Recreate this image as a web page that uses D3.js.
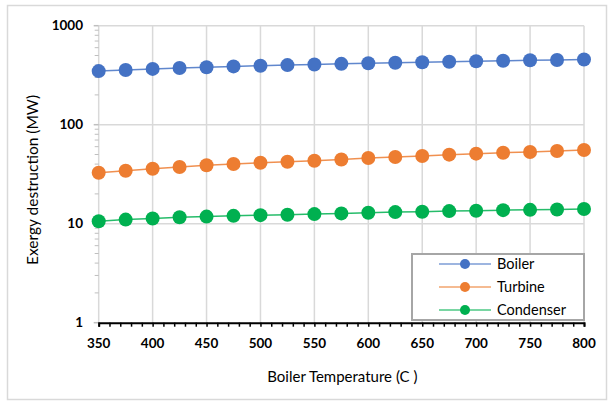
<!DOCTYPE html>
<html><head><meta charset="utf-8">
<script src="https://cdn.jsdelivr.net/npm/d3@7"></script>
<style>body{margin:0;background:#fff}svg{display:block}</style>
</head><body>
<svg id="c" width="609" height="401"></svg>
<script>
const temps = [350,375,400,425,450,475,500,525,550,575,600,625,650,675,700,725,750,775,800];
const boiler = [348,357,366,374,381,388,394,400,406,412,418,423,428,433,438,443,447,451,455];
const turbine = [32.7,34.3,35.9,37.4,38.9,40.1,41.3,42.3,43.3,44.5,46.1,47.2,48.3,49.8,51.0,52.1,53.0,54.2,55.5];
const condenser = [10.6,11.0,11.3,11.6,11.8,12.0,12.2,12.3,12.5,12.7,12.9,13.1,13.2,13.4,13.5,13.7,13.8,13.9,14.1];
const seriesNames = ["Boiler","Turbine","Condenser"];
const seriesColors = ["#4472C4","#ED7D31","#00B050"];
const xTicks = [350,400,450,500,550,600,650,700,750,800];
const yTicks = [1,10,100,1000];
const xTitle = "Boiler Temperature (C )";
const yTitle = "Exergy destruction (MW)";

const svg = d3.select("#c");
const font = "Lato, 'Open Sans', sans-serif";
const L = 98.7, R = 584, T = 25.7, B = 322.7;
const x = d3.scaleLinear().domain([350,800]).range([L,R]);
const y = d3.scaleLog().domain([1,1000]).range([B,T]);

// outer border
svg.append("rect").attr("x",7.5).attr("y",5.5).attr("width",599).attr("height",394)
  .attr("fill","#fff").attr("stroke","#d9d9d9").attr("stroke-width",1.5);

// gridlines
const g = svg.append("g");
g.selectAll(".vg").data(xTicks).join("line")
  .attr("x1",d=>x(d)).attr("x2",d=>x(d)).attr("y1",T).attr("y2",B)
  .attr("stroke","#d9d9d9").attr("stroke-width",1.5);
g.selectAll(".hg").data(yTicks.slice(1)).join("line")
  .attr("x1",L).attr("x2",R).attr("y1",d=>y(d)).attr("y2",d=>y(d))
  .attr("stroke","#d9d9d9").attr("stroke-width",1.5);

// y axis minor ticks
const minor = [];
for (let e=0;e<3;e++) for (let m=2;m<=9;m++) minor.push(m*Math.pow(10,e));
g.selectAll(".ym").data(minor).join("line")
  .attr("x1",L-4).attr("x2",L).attr("y1",d=>y(d)).attr("y2",d=>y(d))
  .attr("stroke","#bfbfbf").attr("stroke-width",1);
g.selectAll(".yM").data(yTicks).join("line")
  .attr("x1",L-5).attr("x2",L).attr("y1",d=>y(d)).attr("y2",d=>y(d))
  .attr("stroke","#bfbfbf").attr("stroke-width",1.5);

// y tick labels
svg.append("g").selectAll("text").data(yTicks).join("text")
  .attr("x",83).attr("y",d=>y(d)).attr("dy","0.35em").attr("text-anchor","end")
  .attr("font-family",font).attr("font-weight","bold").attr("font-size",13.5).attr("fill","#000")
  .text(d=>d);

// x axis
const xAxis = d3.axisBottom(x).tickValues(d3.range(350,801,10)).tickSize(4).tickFormat("");
const ax = svg.append("g").attr("transform",`translate(0,${B})`).call(xAxis);
ax.select(".domain").attr("stroke","#000").attr("stroke-width",2);
ax.selectAll(".tick line").attr("stroke","#000").attr("stroke-width",1.5);
svg.append("g").selectAll("text").data(xTicks).join("text")
  .attr("x",d=>x(d)).attr("y",343).attr("dy","0.35em").attr("text-anchor","middle")
  .attr("font-family",font).attr("font-weight","bold").attr("font-size",13.5).attr("fill","#000")
  .text(d=>d);

// titles
svg.append("text").attr("x",(L+R)/2+1).attr("y",377).attr("dy","0.35em").attr("text-anchor","middle")
  .attr("font-family",font).attr("font-size",15).attr("fill","#000").text(xTitle);
svg.append("text").attr("transform",`translate(33,180) rotate(-90)`).attr("dy","0.35em")
  .attr("text-anchor","middle").attr("font-family",font).attr("font-size",15.5).attr("fill","#000").text(yTitle);

// series
const allSeries = [boiler,turbine,condenser];
const line = d3.line().x((d,i)=>x(temps[i])).y(d=>y(d));
allSeries.forEach((vals,k)=>{
  svg.append("path").datum(vals).attr("d",line).attr("fill","none")
    .attr("stroke",seriesColors[k]).attr("stroke-width",1.5).attr("stroke-opacity",0.85);
  svg.append("g").selectAll("circle").data(vals).join("circle")
    .attr("cx",(d,i)=>x(temps[i])).attr("cy",d=>y(d)).attr("r",7).attr("fill",seriesColors[k]);
});

// legend
const lg = svg.append("g");
lg.append("rect").attr("x",412).attr("y",254).attr("width",172).attr("height",66)
  .attr("fill","#fff").attr("stroke","#a6a6a6").attr("stroke-width",2);
seriesNames.forEach((n,k)=>{
  const yy = 264 + k*23;
  lg.append("line").attr("x1",439).attr("x2",491).attr("y1",yy).attr("y2",yy)
    .attr("stroke",seriesColors[k]).attr("stroke-width",1.5).attr("stroke-opacity",0.7);
  lg.append("circle").attr("cx",465).attr("cy",yy).attr("r",5).attr("fill",seriesColors[k]);
  lg.append("text").attr("x",497).attr("y",yy).attr("dy","0.35em")
    .attr("font-family",font).attr("font-size",14.5).attr("fill","#000").text(n);
});
</script>
</body></html>
